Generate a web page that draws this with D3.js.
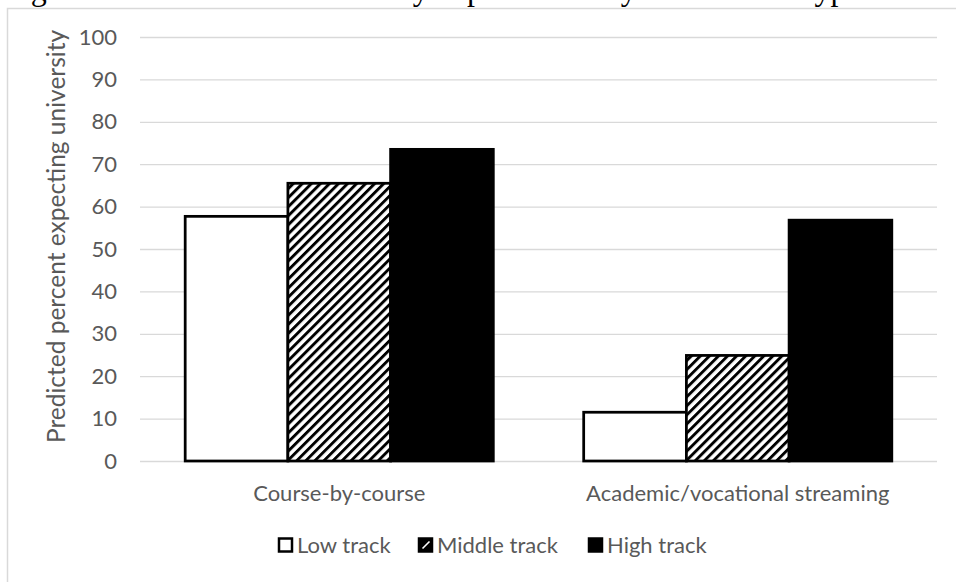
<!DOCTYPE html>
<html>
<head>
<meta charset="utf-8">
<script src="https://cdn.jsdelivr.net/npm/d3@7"></script>
<style>
  html, body { margin: 0; padding: 0; background: #fff; }
  svg { display: block; }
</style>
</head>
<body>
<svg id="chart" width="956" height="582"></svg>
<script>
// Predicted percent expecting university, by track and tracking system
const categories = ["Course-by-course", "Academic/vocational streaming"];
const seriesNames = ["Low track", "Middle track", "High track"];
const lowTrack = [57.7, 11.5];
const middleTrack = [65.5, 24.9];
const highTrack = [73.5, 56.8];
const yTicks = [0, 10, 20, 30, 40, 50, 60, 70, 80, 90, 100];
const yTitle = "Predicted percent expecting university";
const captionLabel = "Figure 1.";
const captionText = "Predicted university expectations by track in two types of tracking systems";

const seriesValues = [lowTrack, middleTrack, highTrack];
const rows = categories.map((c, i) => ({
  category: c,
  values: seriesNames.map((s, k) => ({ series: s, value: seriesValues[k][i] }))
}));

const svg = d3.select("#chart");
const W = 956, H = 582;
const margin = { left: 140, right: 19, top: 37, bottom: 121 };
const ink = "#000";
const labelColor = "#595959";
const uiFont = "Lato, 'Noto Sans', sans-serif";
const labelSize = 22;

// hatch pattern for the middle track
const defs = svg.append("defs");
defs.append("pattern")
  .attr("id", "hatch")
  .attr("patternUnits", "userSpaceOnUse")
  .attr("width", 6.4).attr("height", 6.4)
  .attr("patternTransform", "rotate(45)")
  .call(p => {
    p.append("rect").attr("width", 6.4).attr("height", 6.4).attr("fill", "#fff");
    p.append("rect").attr("x", 0).attr("y", 0).attr("width", 2.9).attr("height", 6.4).attr("fill", ink);
  });
const fills = { "Low track": "#fff", "Middle track": "url(#hatch)", "High track": ink };

// caption line running off the top of the frame (label, tab, text)
const cap = svg.append("text")
  .attr("y", 0)
  .attr("font-family", "'Liberation Serif', 'Times New Roman', serif")
  .attr("font-size", 32)
  .attr("fill", ink);
cap.append("tspan").attr("x", 4).text(captionLabel);
cap.append("tspan").attr("x", 172).text(captionText);

// chart frame
svg.append("rect")
  .attr("x", 7.5).attr("y", 8.5)
  .attr("width", W + 20).attr("height", H + 20)
  .attr("fill", "none")
  .attr("stroke", "#d9d9d9")
  .attr("stroke-width", 1.5);

const x0 = d3.scaleBand()
  .domain(categories)
  .range([margin.left, W - margin.right])
  .paddingInner(0).paddingOuter(0);

const x1 = d3.scaleBand()
  .domain(seriesNames)
  .range([0, x0.bandwidth()])
  .paddingOuter(0.44)
  .paddingInner(0);

const y = d3.scaleLinear()
  .domain([0, 100])
  .range([H - margin.bottom, margin.top]);

// gridlines and y labels
const yAxis = d3.axisLeft(y)
  .tickValues(yTicks)
  .tickSize(-(W - margin.right - margin.left))
  .tickPadding(23)
  .tickFormat(d3.format("d"));

const yg = svg.append("g")
  .attr("transform", `translate(${margin.left},0)`)
  .call(yAxis);
yg.select(".domain").remove();
yg.selectAll(".tick line").attr("stroke", "#d9d9d9").attr("stroke-width", 1.3);
yg.selectAll(".tick text")
  .attr("fill", labelColor)
  .attr("font-family", uiFont)
  .attr("font-size", labelSize);

// bars
const groups = svg.append("g").selectAll("g")
  .data(rows)
  .join("g")
  .attr("transform", d => `translate(${x0(d.category)},0)`);

groups.selectAll("rect")
  .data(d => d.values)
  .join("rect")
  .attr("x", d => x1(d.series))
  .attr("width", x1.bandwidth())
  .attr("y", d => y(d.value))
  .attr("height", d => y(0) - y(d.value))
  .attr("fill", d => fills[d.series])
  .attr("stroke", ink)
  .attr("stroke-width", 2.75);

// category labels
const xAxis = d3.axisBottom(x0).tickSize(0).tickPadding(24);
const xg = svg.append("g")
  .attr("transform", `translate(0,${y(0)})`)
  .call(xAxis);
xg.select(".domain").remove();
xg.selectAll(".tick text")
  .attr("fill", labelColor)
  .attr("font-family", uiFont)
  .attr("font-size", labelSize);

// y-axis title
svg.append("text")
  .attr("transform", `translate(64.5,236.5) rotate(-90)`)
  .attr("text-anchor", "middle")
  .attr("fill", labelColor)
  .attr("font-family", uiFont)
  .attr("font-size", 24.5)
  .text(yTitle);

// legend
const legendItems = [
  { name: "Low track", x: 278 },
  { name: "Middle track", x: 418 },
  { name: "High track", x: 588 }
];
const legend = svg.append("g").attr("transform", "translate(0,545)");
const li = legend.selectAll("g")
  .data(legendItems.filter(d => seriesNames.includes(d.name)))
  .join("g")
  .attr("transform", d => `translate(${d.x},0)`);
li.append("rect")
  .attr("x", 1).attr("y", -6.5)
  .attr("width", 13).attr("height", 13)
  .attr("fill", d => d.name === "Low track" ? "#fff" : ink)
  .attr("stroke", ink)
  .attr("stroke-width", 2.5);
// single white stripe for the hatched swatch
li.filter(d => d.name === "Middle track")
  .append("path")
  .attr("d", "M4.5,3.5 L11.5,-3.5")
  .attr("stroke", "#fff")
  .attr("stroke-width", 1.6);
li.append("text")
  .attr("x", 19).attr("y", 0)
  .attr("dy", "0.35em")
  .attr("fill", labelColor)
  .attr("font-family", uiFont)
  .attr("font-size", labelSize)
  .text(d => d.name);
</script>
</body>
</html>
